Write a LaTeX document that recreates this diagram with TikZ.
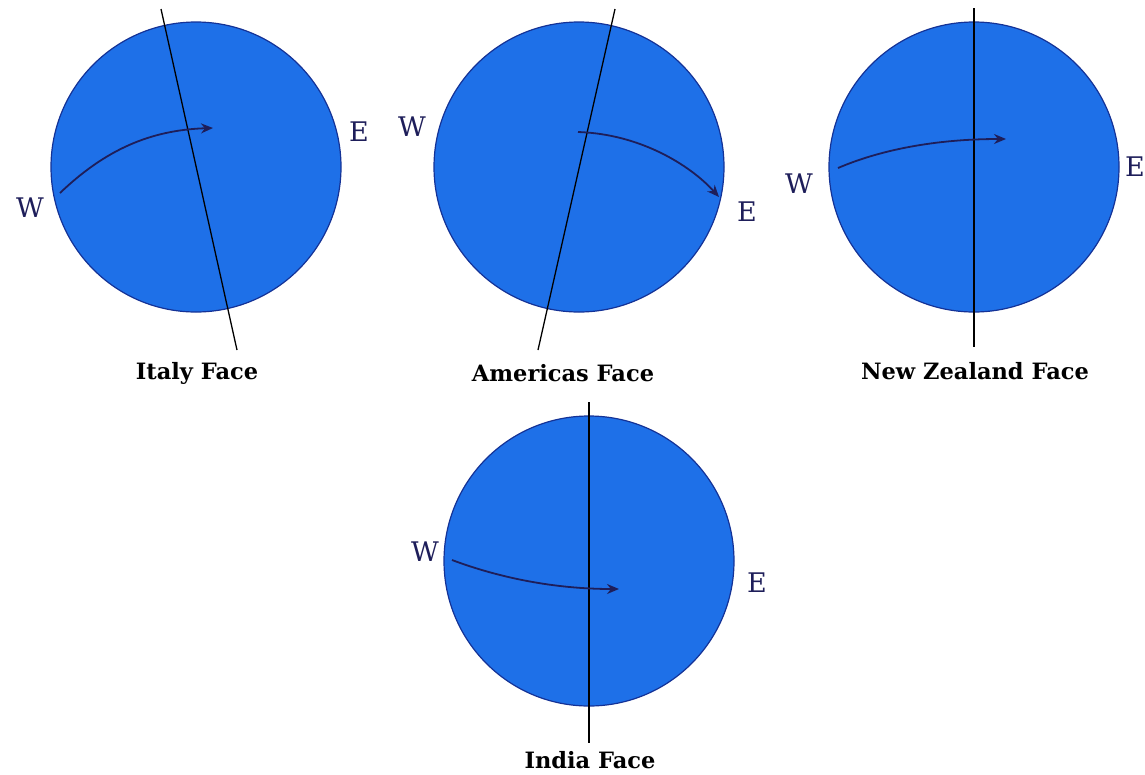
\documentclass[tikz,border=0pt]{standalone}
\usepackage{fontspec}
\setmainfont{DejaVu Serif}
\usetikzlibrary{arrows.meta}
\definecolor{globeblue}{RGB}{30,112,232}
\definecolor{rimblue}{RGB}{20,50,150}
\definecolor{inknavy}{RGB}{30,30,90}
\begin{document}
\begin{tikzpicture}[x=1pt,y=-1pt,
 globe/.style={circle,fill=globeblue,draw=rimblue,line width=1.2pt,minimum size=290pt,inner sep=0pt},
 axisline/.style={black,line width=1.3pt},
 spin/.style={inknavy,line width=1.8pt,-{Stealth[length=12pt,width=10pt]}},
 dirlbl/.style={inknavy,inner sep=0pt,font=\fontsize{27}{27}\selectfont},
 facelbl/.style={inner sep=0pt,font=\bfseries\fontsize{22.5}{22.5}\selectfont}]
\useasboundingbox (0,0) rectangle (1145,774);

% Italy
\node[globe] (g1) at (196,167) {};
\coordinate (a1t) at (161,9);
\coordinate (a1b) at (237,350);
\draw[axisline] (a1t) -- (a1b);
\coordinate (s1) at (60,193);
\coordinate (e1) at (213,128);
\draw[spin] (s1) .. controls (105,150) and (150,130) .. (e1);
\node[dirlbl] (w1) at (30,208) {W};
\node[dirlbl] (x1) at (359,132) {E};
\node[facelbl] (l1) at (197,373) {Italy Face};

% Americas
\node[globe] (g2) at (579,167) {};
\coordinate (a2t) at (615,9);
\coordinate (a2b) at (538,350);
\draw[axisline] (a2t) -- (a2b);
\coordinate (s2) at (578,132);
\coordinate (e2) at (719,197);
\draw[spin] (s2) .. controls (640,134) and (690,165) .. (e2);
\node[dirlbl] (w2) at (412,127) {W};
\node[dirlbl] (x2) at (747,212) {E};
\node[facelbl] (l2) at (563,373) {Americas Face};

% New Zealand
\node[globe] (g3) at (974,167) {};
\coordinate (a3t) at (974,8);
\coordinate (a3b) at (974,347);
\draw[axisline] (a3t) -- (a3b);
\coordinate (s3) at (838,168);
\coordinate (e3) at (1006,139);
\draw[spin] (s3) .. controls (880,150) and (935,139) .. (e3);
\node[dirlbl] (w3) at (799,184) {W};
\node[dirlbl] (x3) at (1135,167) {E};
\node[facelbl] (l3) at (975,371) {New Zealand Face};

% India
\node[globe] (g4) at (589,561) {};
\coordinate (a4t) at (589,402);
\coordinate (a4b) at (589,743);
\draw[axisline] (a4t) -- (a4b);
\coordinate (s4) at (452,560);
\coordinate (e4) at (619,589);
\draw[spin] (s4) .. controls (500,578) and (555,589) .. (e4);
\node[dirlbl] (w4) at (425,552) {W};
\node[dirlbl] (x4) at (757,583) {E};
\node[facelbl] (l4) at (590,760) {India Face};
\end{tikzpicture}
\end{document}
